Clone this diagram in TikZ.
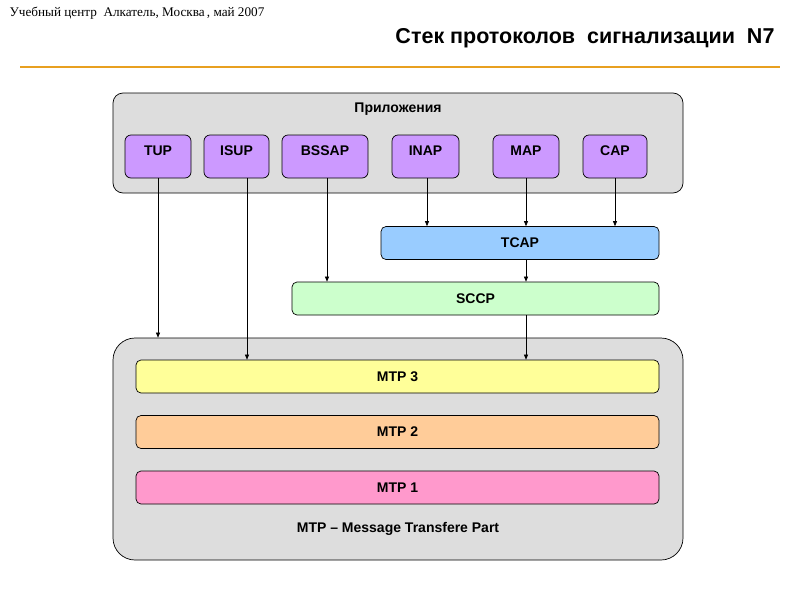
\documentclass[tikz,border=0pt]{standalone}
\usepackage{fontspec}
\setmainfont{Liberation Sans}
\newfontfamily\headfont{Liberation Serif}
\usetikzlibrary{arrows.meta,positioning}

\definecolor{grpgray}{HTML}{DDDDDD}
\definecolor{appviolet}{HTML}{CC99FF}
\definecolor{tcapblue}{HTML}{99CCFF}
\definecolor{sccpgreen}{HTML}{CCFFCC}
\definecolor{mtpyellow}{HTML}{FFFF99}
\definecolor{mtporange}{HTML}{FFCC99}
\definecolor{mtppink}{HTML}{FF99CC}
\definecolor{rulecolor}{HTML}{E8A020}

\begin{document}
\begin{tikzpicture}[
	x=1pt, y=-1pt,
	every node/.style={font=\bfseries\fontsize{14}{16}\selectfont},
	group/.style={rectangle, draw, line width=0.7pt, fill=grpgray, rounded corners=10pt, inner sep=0pt},
	proto/.style={rectangle, draw, line width=0.7pt, fill=appviolet, rounded corners=6pt, minimum height=43pt, text height=11pt, text depth=14pt, inner sep=0pt},
	layer/.style={rectangle, draw, line width=0.7pt, fill=#1, rounded corners=5pt, minimum height=33pt, inner sep=0pt},
	link/.style={-{Triangle[length=5pt,width=4pt]}, line width=0.6pt}
	]

\useasboundingbox (0,0) rectangle (800,600);

% Header
\node [anchor=west, font=\headfont\fontsize{13.2}{15}\selectfont] (center) at (6,13) {Учебный центр\ \ Алкатель,\ Москва\,, май 2007};
\node [anchor=east, font=\bfseries\fontsize{21.5}{24}\selectfont] (title) at (778,38) {Стек протоколов\ \ сигнализации\ \ N7};
\draw [rulecolor, line width=2pt] (20,67) -- (780,67);

% Applications
\node [group, minimum width=570pt, minimum height=100pt] (apps) at (398,143) {};
\node (appstitle) at (398,109) {Приложения};
\node [proto, minimum width=66pt] (tup) at (158,156.5) {TUP};
\node [proto, minimum width=65pt] (isup) at (236.5,156.5) {ISUP};
\node [proto, minimum width=86pt] (bssap) at (325,156.5) {BSSAP};
\node [proto, minimum width=67pt] (inap) at (425.5,156.5) {INAP};
\node [proto, minimum width=66pt] (map) at (526,156.5) {MAP};
\node [proto, minimum width=64pt] (cap) at (615,156.5) {CAP};

% TCAP and SCCP
\node [layer=tcapblue, minimum width=278pt] (tcap) at (520,243) {TCAP};
\node [layer=sccpgreen, minimum width=367pt] (sccp) at (475.5,298.5) {SCCP};

% MTP
\node [group, rounded corners=22pt, minimum width=570pt, minimum height=222pt] (mtp) at (398,449) {};
\node [layer=mtpyellow, minimum width=523pt] (mtp3) at (397.5,376.5) {MTP 3};
\node [layer=mtporange, minimum width=523pt] (mtp2) at (397.5,432) {MTP 2};
\node [layer=mtppink, minimum width=523pt] (mtp1) at (397.5,487.5) {MTP 1};
\node (mtptitle) at (398,529) {MTP – Message Transfere Part};

% Links
\draw [link] (tup) -- (tup |- mtp.north);
\draw [link] ([xshift=10.5pt]isup.south) -- ([xshift=10.5pt]isup.south |- mtp3.north);
\draw [link] ([xshift=2pt]bssap.south) -- ([xshift=2pt]bssap.south |- sccp.north);
\draw [link] ([xshift=1.5pt]inap.south) -- ([xshift=1.5pt]inap.south |- tcap.north);
\draw [link] (map) -- (map |- tcap.north);
\draw [link] (cap) -- (cap |- tcap.north);
\draw [link] (map |- tcap.south) -- (map |- sccp.north);
\draw [link] (map |- sccp.south) -- (map |- mtp3.north);

\end{tikzpicture}
\end{document}
